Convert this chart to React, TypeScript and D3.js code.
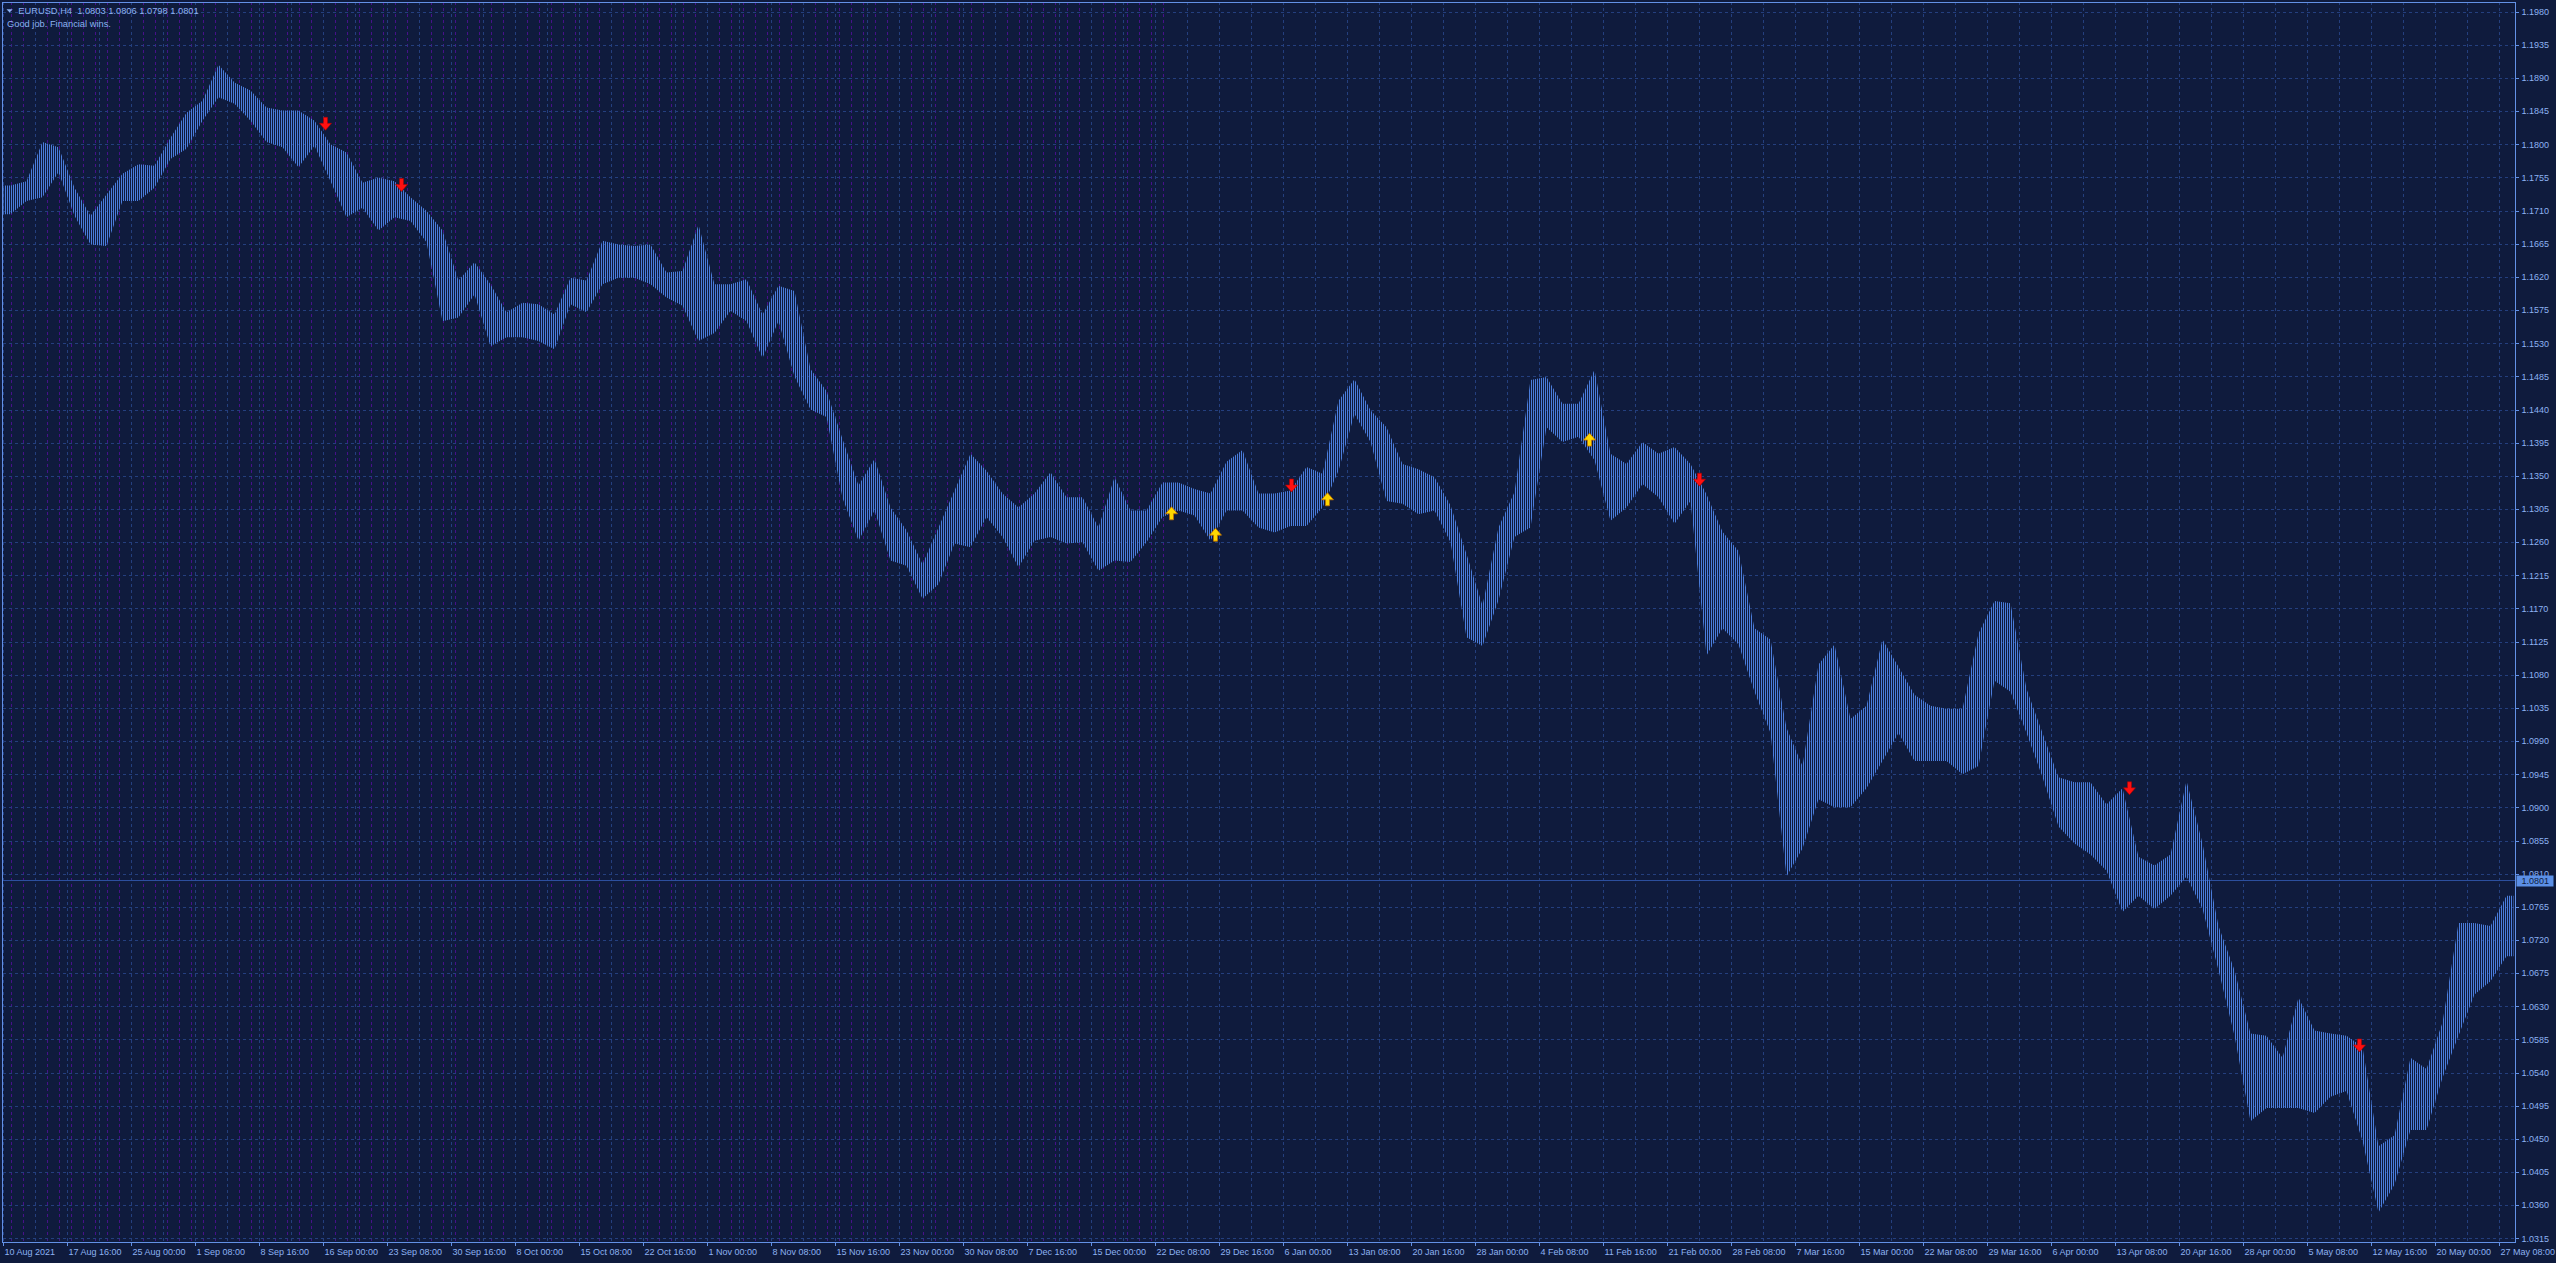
import React from 'react';
import * as d3 from 'd3';

// ---------- data ----------
const symbolTitle = 'EURUSD,H4';
const headerQuote = ['1.0803', '1.0806', '1.0798', '1.0801'];
const subtitle = 'Good job. Financial wins.';
const currentPrice = 1.0801;

const timeLabels = [
  '10 Aug 2021', '17 Aug 16:00', '25 Aug 00:00', '1 Sep 08:00', '8 Sep 16:00', '16 Sep 00:00',
  '23 Sep 08:00', '30 Sep 16:00', '8 Oct 00:00', '15 Oct 08:00', '22 Oct 16:00', '1 Nov 00:00',
  '8 Nov 08:00', '15 Nov 16:00', '23 Nov 00:00', '30 Nov 08:00', '7 Dec 16:00', '15 Dec 00:00',
  '22 Dec 08:00', '29 Dec 16:00', '6 Jan 00:00', '13 Jan 08:00', '20 Jan 16:00', '28 Jan 00:00',
  '4 Feb 08:00', '11 Feb 16:00', '21 Feb 00:00', '28 Feb 08:00', '7 Mar 16:00', '15 Mar 00:00',
  '22 Mar 08:00', '29 Mar 16:00', '6 Apr 00:00', '13 Apr 08:00', '20 Apr 16:00', '28 Apr 00:00',
  '5 May 08:00', '12 May 16:00', '20 May 00:00', '27 May 08:00',
];
const barsPerLabel = 32;
const barsPerSample = 8;
const totalBars = 1256;

const priceTicks = [
  1.1980, 1.1935, 1.1890, 1.1845, 1.1800, 1.1755, 1.1710, 1.1665, 1.1620, 1.1575, 1.1530,
  1.1485, 1.1440, 1.1395, 1.1350, 1.1305, 1.1260, 1.1215, 1.1170, 1.1125, 1.1080, 1.1035,
  1.0990, 1.0945, 1.0900, 1.0855, 1.0810, 1.0765, 1.0720, 1.0675, 1.0630, 1.0585, 1.0540,
  1.0495, 1.0450, 1.0405, 1.0360, 1.0315,
];

// High / low of the H4 bars in every 8-bar block
const sampleHigh = [
  1.1744, 1.1750, 1.1803, 1.1796, 1.1741, 1.1703, 1.1732, 1.1760, 1.1773, 1.1771,
  1.1809, 1.1843, 1.1859, 1.1908, 1.1884, 1.1873, 1.1850, 1.1846, 1.1846, 1.1832,
  1.1800, 1.1789, 1.1748, 1.1755, 1.1750, 1.1728, 1.1710, 1.1683, 1.1615, 1.1640,
  1.1610, 1.1572, 1.1585, 1.1583, 1.1569, 1.1619, 1.1615, 1.1669, 1.1664, 1.1662,
  1.1664, 1.1626, 1.1628, 1.1691, 1.1610, 1.1610, 1.1617, 1.1569, 1.1608, 1.1601,
  1.1495, 1.1465, 1.1400, 1.1337, 1.1373, 1.1307, 1.1276, 1.1230, 1.1280, 1.1330,
  1.1380, 1.1357, 1.1326, 1.1307, 1.1326, 1.1355, 1.1321, 1.1321, 1.1280, 1.1348,
  1.1303, 1.1303, 1.1341, 1.1341, 1.1332, 1.1326, 1.1369, 1.1385, 1.1326, 1.1326,
  1.1330, 1.1362, 1.1353, 1.1452, 1.1481, 1.1439, 1.1416, 1.1366, 1.1359, 1.1348,
  1.1310, 1.1244, 1.1174, 1.1280, 1.1328, 1.1480, 1.1484, 1.1448, 1.1448, 1.1494,
  1.1380, 1.1366, 1.1396, 1.1380, 1.1389, 1.1366, 1.1325, 1.1274, 1.1248, 1.1143,
  1.1128, 1.1008, 1.0956, 1.1094, 1.1121, 1.1020, 1.1038, 1.1128, 1.1091, 1.1053,
  1.1038, 1.1034, 1.1034, 1.1136, 1.1180, 1.1177, 1.1061, 1.1001, 1.0941, 1.0934,
  1.0934, 1.0904, 1.0926, 1.0833, 1.0821, 1.0836, 1.0936, 1.0851, 1.0739, 1.0679,
  1.0593, 1.0590, 1.0560, 1.0642, 1.0597, 1.0593, 1.0590, 1.0575, 1.0440, 1.0455,
  1.0560, 1.0545, 1.0608, 1.0743, 1.0743, 1.0739, 1.0780,
];
const sampleLow = [
  1.1705, 1.1723, 1.1728, 1.1762, 1.1703, 1.1664, 1.1662, 1.1723, 1.1723, 1.1741,
  1.1780, 1.1794, 1.1832, 1.1864, 1.1855, 1.1832, 1.1803, 1.1796, 1.1769, 1.1798,
  1.1750, 1.1701, 1.1714, 1.1683, 1.1701, 1.1696, 1.1667, 1.1560, 1.1565, 1.1596,
  1.1526, 1.1538, 1.1538, 1.1533, 1.1522, 1.1583, 1.1572, 1.1610, 1.1619, 1.1619,
  1.1610, 1.1592, 1.1581, 1.1533, 1.1544, 1.1574, 1.1560, 1.1510, 1.1560, 1.1485,
  1.1440, 1.1430, 1.1320, 1.1262, 1.1303, 1.1235, 1.1228, 1.1183, 1.1203, 1.1258,
  1.1253, 1.1294, 1.1267, 1.1226, 1.1262, 1.1267, 1.1258, 1.1260, 1.1221, 1.1235,
  1.1233, 1.1260, 1.1294, 1.1303, 1.1296, 1.1262, 1.1303, 1.1303, 1.1280, 1.1273,
  1.1282, 1.1282, 1.1307, 1.1357, 1.1434, 1.1396, 1.1316, 1.1312, 1.1298, 1.1303,
  1.1260, 1.1131, 1.1119, 1.1181, 1.1267, 1.1280, 1.1416, 1.1396, 1.1403, 1.1371,
  1.1289, 1.1307, 1.1339, 1.1321, 1.1285, 1.1316, 1.1106, 1.1143, 1.1121, 1.1057,
  1.1001, 1.0806, 1.0844, 1.0911, 1.0900, 1.0900, 1.0926, 1.0963, 1.1001, 1.0963,
  1.0963, 1.0963, 1.0945, 1.0956, 1.1072, 1.1057, 1.1001, 1.0941, 1.0874, 1.0851,
  1.0836, 1.0814, 1.0758, 1.0780, 1.0762, 1.0780, 1.0806, 1.0762, 1.0679, 1.0590,
  1.0474, 1.0492, 1.0492, 1.0492, 1.0485, 1.0507, 1.0515, 1.0447, 1.0350, 1.0388,
  1.0462, 1.0462, 1.0533, 1.0590, 1.0646, 1.0664, 1.0698,
];

// signal arrows: bar index and price at the arrow tip
const sellBars = [161, 199, 644, 848, 1063, 1178];
const sellPrices = [1.1819, 1.1736, 1.1328, 1.1336, 1.0917, 1.0568];
const buyBars = [584, 606, 662, 793];
const buyPrices = [1.1308, 1.1279, 1.1327, 1.1408];

// daily period separators (drawn only on the older part of the chart)
const separatorStartBar = 4;
const separatorEndBar = 580;
const barsPerDay = 6;

// ---------- styles ----------
const BG = '#0f1b3d';
const BAR = '#4a7ddc';
const GRID = '#243f7e';
const SEP = '#47118a';
const FRAME = '#6391e6';
const TEXT = '#8db2f2';
const FONT = '"Liberation Sans", Arial, sans-serif';

const W = 2556;
const H = 1263;
const left = 2.5;
const top = 2;
const right = 2515.5;
const bottom = 1242;

export default function App() {
  const x = d3.scaleLinear().domain([0, totalBars]).range([3.5, 3.5 + 2 * totalBars]);
  const y = d3.scaleLinear().domain([1.031, 1.19932]).range([bottom, top]);

  type P = { bar: number; hi: number; lo: number };
  const pts: P[] = sampleHigh.map((h, i) => ({ bar: i * barsPerSample + 3.5, hi: h, lo: sampleLow[i] }));
  pts.unshift({ bar: 0, hi: sampleHigh[0], lo: sampleLow[0] });
  pts.push({ bar: totalBars - 1, hi: sampleHigh[sampleHigh.length - 1], lo: sampleLow[sampleLow.length - 1] });

  const area = d3
    .area<P>()
    .x((d) => x(d.bar))
    .y0((d) => y(d.lo))
    .y1((d) => y(d.hi))
    .curve(d3.curveLinear);

  const gridBars = d3.range(0, totalBars - 4, barsPerLabel / 2);
  const sepBars = d3.range(separatorStartBar, separatorEndBar + 1, barsPerDay);

  const downArrow = (cx: number, ty: number) =>
    `M${cx - 2},${ty - 13}L${cx + 2},${ty - 13}L${cx + 2},${ty - 7}L${cx + 6},${ty - 7}L${cx},${ty}L${cx - 6},${ty - 7}L${cx - 2},${ty - 7}Z`;
  const upArrow = (cx: number, ty: number) =>
    `M${cx - 2},${ty + 13}L${cx + 2},${ty + 13}L${cx + 2},${ty + 7}L${cx + 6},${ty + 7}L${cx},${ty}L${cx - 6},${ty + 7}L${cx - 2},${ty + 7}Z`;

  const cpY = Math.round(y(currentPrice)) + 0.5;

  return (
    <svg
      width={W}
      height={H}
      style={{ position: 'absolute', left: 0, top: 0, background: BG, display: 'block' }}
      fontFamily={FONT}
    >
      <defs>
        <pattern id="barStripes" patternUnits="userSpaceOnUse" x={0} y={0} width={2} height={8}>
          <rect x={1} y={0} width={1} height={8} fill={BAR} />
        </pattern>
        <clipPath id="plotClip">
          <rect x={left} y={top} width={right - left} height={bottom - top} />
        </clipPath>
      </defs>
      <rect x={0} y={0} width={W} height={H} fill={BG} />

      {/* period separators */}
      <g stroke={SEP} strokeWidth={1} strokeDasharray="3,3" shapeRendering="crispEdges">
        {sepBars.map((b) => (
          <line key={'s' + b} x1={Math.floor(x(b)) + 0.5} x2={Math.floor(x(b)) + 0.5} y1={top} y2={bottom} />
        ))}
      </g>

      {/* grid */}
      <g stroke={GRID} strokeWidth={1} strokeDasharray="3,3" shapeRendering="crispEdges">
        {priceTicks.map((p) => (
          <line key={'h' + p} x1={left} x2={right} y1={Math.round(y(p)) + 0.5} y2={Math.round(y(p)) + 0.5} />
        ))}
        {gridBars.map((b) => (
          <line key={'v' + b} x1={Math.floor(x(b)) + 0.5} x2={Math.floor(x(b)) + 0.5} y1={top} y2={bottom} />
        ))}
      </g>

      {/* current price line */}
      <line x1={left} x2={right} y1={cpY} y2={cpY} stroke="#2c4f9e" strokeWidth={1} shapeRendering="crispEdges" />

      {/* price bars */}
      <g clipPath="url(#plotClip)">
        <path d={area(pts) || ''} fill="url(#barStripes)" />
      </g>

      {/* signals */}
      <g>
        {sellBars.map((b, i) => (
          <path key={'sell' + b} d={downArrow(x(b), y(sellPrices[i]))} fill="#ff1010" stroke="#b00000" strokeWidth={0.6} />
        ))}
        {buyBars.map((b, i) => (
          <path key={'buy' + b} d={upArrow(x(b), y(buyPrices[i]))} fill="#ffd800" stroke="#c07000" strokeWidth={0.8} />
        ))}
      </g>

      {/* frame */}
      <g stroke={FRAME} strokeWidth={1} fill="none" shapeRendering="crispEdges">
        <rect x={left} y={top} width={right - left} height={bottom - top} />
        {priceTicks.map((p) => (
          <line key={'pt' + p} x1={right} x2={right + 3} y1={Math.round(y(p)) + 0.5} y2={Math.round(y(p)) + 0.5} />
        ))}
        {timeLabels.map((t, i) => (
          <line key={'tt' + i} x1={Math.floor(x(i * barsPerLabel)) + 0.5} x2={Math.floor(x(i * barsPerLabel)) + 0.5} y1={bottom} y2={bottom + 4} />
        ))}
      </g>

      {/* price labels */}
      <g fill={TEXT} fontSize={9}>
        {priceTicks.map((p) => (
          <text key={'pl' + p} x={2521.5} y={y(p) + 3.3}>
            {p.toFixed(4)}
          </text>
        ))}
      </g>

      {/* current price box */}
      <rect x={2516.5} y={cpY - 5} width={37} height={11} fill="#5b8fe6" />
      <text x={2521.5} y={cpY + 3.6} fontSize={9} fill={BG}>
        {currentPrice.toFixed(4)}
      </text>

      {/* time labels */}
      <g fill={TEXT} fontSize={9}>
        {timeLabels.map((t, i) => (
          <text key={'tl' + i} x={Math.floor(x(i * barsPerLabel)) + 1.5} y={1254.5}>
            {t}
          </text>
        ))}
      </g>

      {/* header */}
      <path d="M6.5,9.3L12.7,9.3L9.6,12.4Z" fill={TEXT} />
      <text x={18.3} y={14} fontSize={9.3} fill={TEXT} style={{ whiteSpace: 'pre' }}>
        {symbolTitle + '  ' + headerQuote.join(' ')}
      </text>
      <text x={7} y={27} fontSize={9.3} fill={TEXT}>
        {subtitle}
      </text>
    </svg>
  );
}
